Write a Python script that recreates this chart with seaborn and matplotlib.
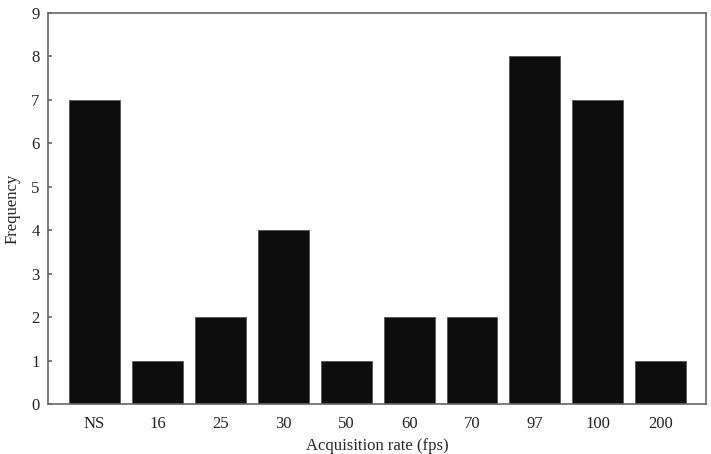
import matplotlib
matplotlib.use("Agg")
import matplotlib.pyplot as plt
import seaborn as sns
import pandas as pd

rates = ["NS", "16", "25", "30", "50", "60", "70", "97", "100", "200"]
counts = [7, 1, 2, 4, 1, 2, 2, 8, 7, 1]

sns.set_style("white")
plt.rcParams["font.family"] = ["Liberation Serif", "DejaVu Serif"]

data = pd.DataFrame({"rate": rates, "freq": counts})

fig = plt.figure(figsize=(7.11, 4.54), dpi=100)
ax = fig.add_axes([48 / 711, 50 / 454, 658 / 711, 391 / 454])
sns.barplot(data=data, x="rate", y="freq", order=rates, color="#0d0d0d",
            saturation=1, width=0.81, edgecolor="#555555", linewidth=0.6, ax=ax)

ax.set_xlim(-0.74, 9.72)
ax.set_ylim(0, 9)
ax.set_yticks(range(10))
ax.set_xlabel("Acquisition rate (fps)", fontsize=12, labelpad=4)
ax.set_ylabel("Frequency", fontsize=12, labelpad=8)
ax.tick_params(axis="y", left=True, direction="in", length=3, width=1.2,
               labelsize=12, colors="#666666", pad=6)
ax.tick_params(axis="x", bottom=False, length=0, labelsize=12, pad=9)
for lab in ax.get_yticklabels() + ax.get_xticklabels():
    lab.set_color("#222222")
for s in ax.spines.values():
    s.set_color("#666666")
    s.set_linewidth(1.2)

fig.savefig("out.png", dpi=100)
